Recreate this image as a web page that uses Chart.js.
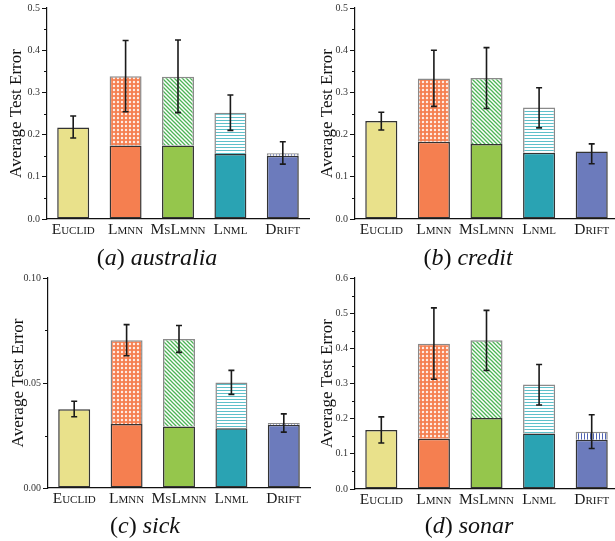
<!DOCTYPE html>
<html>
<head>
<meta charset="utf-8">
<script src="https://cdn.jsdelivr.net/npm/chart.js@4.4.1/dist/chart.umd.min.js"></script>
<style>
  html, body { margin: 0; padding: 0; width: 615px; height: 541px; overflow: hidden; background: #fff; }
  canvas { position: absolute; }
  .cap { position: absolute; font-family: 'Liberation Serif', serif; font-size: 24px; line-height: 28px; text-align: center; color: #111; }
</style>
</head>
<body>
<canvas id="australia" width="310" height="245" style="left:0;top:0"></canvas>
<canvas id="credit" width="313" height="245" style="left:305px;top:0"></canvas>
<canvas id="sick" width="311" height="245" style="left:0;top:270px"></canvas>
<canvas id="sonar" width="313" height="245" style="left:305px;top:270px"></canvas>
<div class="cap" style="left:0;top:243px;width:314px">(<i>a</i>) <i>australia</i></div>
<div class="cap" style="left:311px;top:243px;width:314px">(<i>b</i>) <i>credit</i></div>
<div class="cap" style="left:0;top:511px;width:290px">(<i>c</i>) <i>sick</i></div>
<div class="cap" style="left:311px;top:511px;width:316px">(<i>d</i>) <i>sonar</i></div>
<script>
// Methods (drawn in small caps)
const methods = ['Euclid', 'Lmnn', 'MsLmnn', 'Lnml', 'Drift'];

// australia
const australiaBase  = [0.217, 0.174, 0.174, 0.154, 0.150];
const australiaTotal = [0.217, 0.338, 0.337, 0.252, 0.156];
const australiaLow   = [0.192, 0.254, 0.252, 0.210, 0.130];
const australiaHigh  = [0.244, 0.423, 0.424, 0.294, 0.183];

// credit
const creditBase  = [0.232, 0.183, 0.178, 0.157, 0.160];
const creditTotal = [0.232, 0.333, 0.334, 0.264, 0.160];
const creditLow   = [0.211, 0.267, 0.262, 0.216, 0.131];
const creditHigh  = [0.253, 0.400, 0.406, 0.311, 0.178];

// sick
const sickBase  = [0.0375, 0.0305, 0.0293, 0.0285, 0.0301];
const sickTotal = [0.0375, 0.0703, 0.0709, 0.0502, 0.0309];
const sickLow   = [0.0339, 0.0630, 0.0646, 0.0446, 0.0266];
const sickHigh  = [0.0413, 0.0778, 0.0774, 0.0560, 0.0353];

// sonar
const sonarBase  = [0.168, 0.143, 0.202, 0.158, 0.140];
const sonarTotal = [0.168, 0.413, 0.423, 0.297, 0.163];
const sonarLow   = [0.131, 0.312, 0.337, 0.239, 0.115];
const sonarHigh  = [0.205, 0.515, 0.508, 0.354, 0.211];

// y axis ranges
const topMax = 0.5, topStep = 0.1;
const sickMax = 0.10, sickStep = 0.05;
const sonarMax = 0.6, sonarStep = 0.1;

const solidColors = ['#E9E18B', '#F57F50', '#95C64C', '#2AA3B3', '#6C7BBC'];

function makePattern(kind, color) {
  const c = document.createElement('canvas');
  const s = kind === 'h' || kind === 'v' ? 3 : 4;
  c.width = s; c.height = s;
  const g = c.getContext('2d');
  g.fillStyle = '#fff';
  g.fillRect(0, 0, s, s);
  if (kind === 'cross') {
    g.fillStyle = color;
    g.fillRect(0, 0, s, s);
    g.fillStyle = '#fff';
    g.beginPath();
    g.moveTo(2, 0.6); g.lineTo(3.4, 2); g.lineTo(2, 3.4); g.lineTo(0.6, 2);
    g.closePath();
    g.fill();
  } else if (kind === 'diag') {
    g.strokeStyle = color;
    g.lineWidth = 1.3;
    g.beginPath();
    g.moveTo(-1, -1); g.lineTo(5, 5);
    g.moveTo(-1, 3); g.lineTo(1, 5);
    g.moveTo(3, -1); g.lineTo(5, 1);
    g.stroke();
  } else if (kind === 'h') {
    g.fillStyle = color;
    g.fillRect(0, 0, s, 1);
  } else if (kind === 'v') {
    g.fillStyle = color;
    g.fillRect(0, 0, 1, s);
  }
  return g.createPattern(c, 'repeat');
}

const hatchColors = [
  '#fff',
  makePattern('cross', '#F57F50'),
  makePattern('diag', '#4DB456'),
  makePattern('h', '#5EC0CA'),
  makePattern('v', '#4F63B5')
];

// error bars drawn from the y scale
const errorBars = {
  id: 'errorBars',
  afterDatasetsDraw(chart, args, opts) {
    const ctx = chart.ctx;
    const y = chart.scales.y;
    const meta = chart.getDatasetMeta(0);
    ctx.save();
    ctx.strokeStyle = '#1a1a1a';
    ctx.lineWidth = 1.6;
    opts.low.forEach((lo, i) => {
      const x = meta.data[i].x;
      const y1 = y.getPixelForValue(lo);
      const y2 = y.getPixelForValue(opts.high[i]);
      ctx.beginPath();
      ctx.moveTo(x, y1); ctx.lineTo(x, y2);
      ctx.moveTo(x - 3, y1); ctx.lineTo(x + 3, y1);
      ctx.moveTo(x - 3, y2); ctx.lineTo(x + 3, y2);
      ctx.stroke();
    });
    ctx.restore();
  }
};

// short minor ticks halfway between labelled ticks
const minorTicks = {
  id: 'minorTicks',
  afterDraw(chart, args, opts) {
    const ctx = chart.ctx;
    const y = chart.scales.y;
    ctx.save();
    ctx.strokeStyle = '#111';
    ctx.lineWidth = 1;
    for (let k = 1; opts.step * k < y.max; k += 2) {
      const py = Math.round(y.getPixelForValue(opts.step * k)) + 0.5;
      ctx.beginPath();
      ctx.moveTo(y.right - 3, py);
      ctx.lineTo(y.right, py);
      ctx.stroke();
    }
    ctx.restore();
  }
};

function makeChart(id, base, total, low, high, cfg) {
  const extra = total.map((t, i) => (t - base[i] > 0 ? t - base[i] : null));
  return new Chart(document.getElementById(id), {
    type: 'bar',
    data: {
      labels: methods,
      datasets: [{
        data: base,
        backgroundColor: solidColors,
        borderColor: '#333',
        borderWidth: 1.5,
        borderSkipped: false
      }, {
        data: extra,
        backgroundColor: hatchColors,
        borderColor: '#8a8a8a',
        borderWidth: 1.5,
        borderSkipped: 'start'
      }]
    },
    options: {
      responsive: false,
      animation: false,
      layout: { padding: { left: 0, top: cfg.padTop, right: cfg.padRight, bottom: 0 } },
      datasets: { bar: { barPercentage: 0.61, categoryPercentage: 1 } },
      plugins: {
        legend: { display: false },
        tooltip: { enabled: false },
        errorBars: { low: low, high: high },
        minorTicks: { step: cfg.step / 2 }
      },
      scales: {
        x: {
          stacked: true,
          afterFit: s => { s.height = cfg.xHeight; },
          grid: { display: false, drawTicks: false },
          border: { display: true, color: '#111', width: 1.2 },
          ticks: {
            color: '#1a1a1a',
            padding: 2,
            maxRotation: 0,
            minRotation: 0,
            autoSkip: false,
            font: { family: 'Liberation Serif', size: 15.5, weight: 'small-caps' }
          }
        },
        y: {
          stacked: true,
          min: 0,
          max: cfg.max,
          afterFit: s => { s.width = cfg.yWidth; },
          border: { display: true, color: '#111', width: 1.2 },
          grid: { drawOnChartArea: false, drawTicks: true, tickLength: 5, color: '#111' },
          ticks: {
            stepSize: cfg.step,
            padding: 2,
            color: '#333',
            font: { family: 'Liberation Serif', size: 10 },
            callback: v => v.toFixed(cfg.dec)
          },
          title: {
            display: true,
            text: 'Average Test Error',
            color: '#111',
            font: { family: 'Liberation Serif', size: 17 },
            padding: { top: cfg.titlePad, bottom: 0 }
          }
        }
      }
    },
    plugins: [errorBars, minorTicks]
  });
}

makeChart('australia', australiaBase, australiaTotal, australiaLow, australiaHigh,
  { max: topMax, step: topStep, dec: 1, padTop: 7, padRight: 1, yWidth: 47, xHeight: 26, titlePad: 6 });
makeChart('credit', creditBase, creditTotal, creditLow, creditHigh,
  { max: topMax, step: topStep, dec: 1, padTop: 7, padRight: 0, yWidth: 50, xHeight: 26, titlePad: 12 });
makeChart('sick', sickBase, sickTotal, sickLow, sickHigh,
  { max: sickMax, step: sickStep, dec: 2, padTop: 8, padRight: 1, yWidth: 48, xHeight: 27, titlePad: 8 });
makeChart('sonar', sonarBase, sonarTotal, sonarLow, sonarHigh,
  { max: sonarMax, step: sonarStep, dec: 1, padTop: 7, padRight: 0, yWidth: 50, xHeight: 26, titlePad: 12 });
</script>
</body>
</html>
